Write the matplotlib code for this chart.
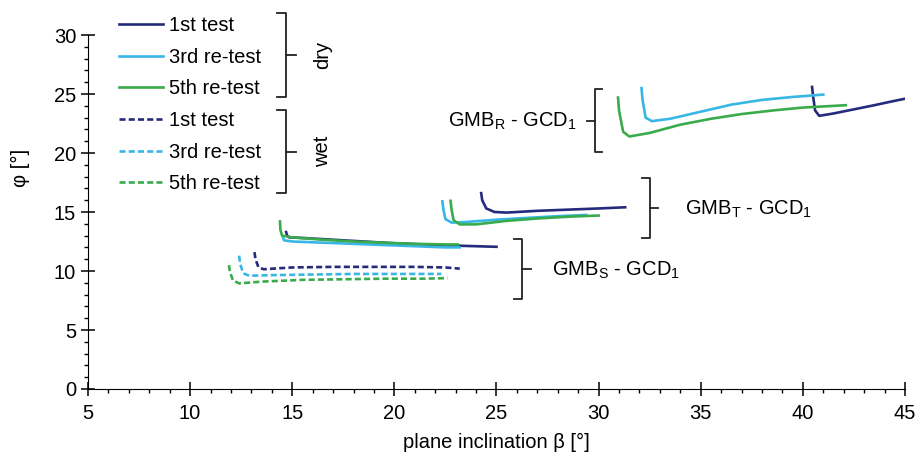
import matplotlib
matplotlib.use("Agg")
import matplotlib.pyplot as plt
from matplotlib.lines import Line2D
from matplotlib.ticker import MultipleLocator

plt.rcParams["font.family"] = ["Liberation Sans", "DejaVu Sans"]
plt.rcParams["mathtext.fontset"] = "custom"
plt.rcParams["mathtext.rm"] = "Liberation Sans"
plt.rcParams["mathtext.it"] = "Liberation Sans"

# --- data (plane inclination beta, friction angle phi) ---
# GMB_R - GCD_1, dry
r1_x = [40.45, 40.5, 40.6, 40.8, 41.5, 42.5, 43.5, 44.3, 45.0]
r1_y = [25.6, 24.8, 23.6, 23.15, 23.35, 23.7, 24.05, 24.35, 24.6]
r3_x = [32.1, 32.15, 32.3, 32.6, 33.5, 35.0, 36.5, 38.0, 39.5, 41.0]
r3_y = [25.5, 24.5, 23.0, 22.7, 22.9, 23.5, 24.1, 24.5, 24.75, 24.95]
r5_x = [30.95, 31.0, 31.2, 31.5, 32.5, 34.0, 35.5, 37.0, 38.5, 40.0, 42.1]
r5_y = [24.7, 23.6, 21.8, 21.4, 21.7, 22.4, 22.9, 23.3, 23.6, 23.85, 24.05]

# GMB_T - GCD_1, dry
t1_x = [24.25, 24.3, 24.5, 24.9, 25.5, 27.0, 28.5, 30.0, 31.3]
t1_y = [16.6, 16.0, 15.3, 15.0, 14.95, 15.1, 15.2, 15.3, 15.4]
t3_x = [22.35, 22.4, 22.5, 22.8, 23.5, 25.0, 26.5, 28.0, 29.4]
t3_y = [15.9, 15.2, 14.4, 14.1, 14.15, 14.35, 14.5, 14.65, 14.75]
t5_x = [22.75, 22.8, 22.9, 23.2, 24.0, 25.5, 27.0, 28.5, 30.0]
t5_y = [15.95, 15.2, 14.3, 13.95, 13.95, 14.25, 14.45, 14.6, 14.7]

# GMB_S - GCD_1, dry
s1_x = [14.7, 14.75, 14.85, 15.5, 17.0, 18.5, 20.0, 21.5, 23.0, 24.0, 25.0]
s1_y = [13.3, 13.0, 12.85, 12.8, 12.65, 12.5, 12.35, 12.25, 12.15, 12.1, 12.05]
s3_x = [14.55, 14.6, 15.0, 16.5, 18.0, 19.5, 21.0, 22.5, 23.2]
s3_y = [12.8, 12.6, 12.5, 12.4, 12.3, 12.2, 12.1, 12.0, 12.0]
s5_x = [14.4, 14.42, 14.5, 15.0, 16.5, 18.0, 19.5, 21.0, 22.5, 23.1]
s5_y = [14.2, 13.5, 13.0, 12.85, 12.65, 12.5, 12.4, 12.3, 12.25, 12.25]

# GMB_S - GCD_1, wet
w1_x = [13.15, 13.2, 13.35, 13.6, 15.0, 17.0, 19.0, 21.0, 22.5, 23.2]
w1_y = [11.6, 11.0, 10.3, 10.15, 10.3, 10.35, 10.35, 10.35, 10.3, 10.2]
w3_x = [12.4, 12.45, 12.6, 12.9, 14.0, 16.0, 18.0, 20.0, 22.3]
w3_y = [11.3, 10.6, 9.8, 9.6, 9.65, 9.7, 9.75, 9.75, 9.75]
w5_x = [11.9, 11.95, 12.1, 12.4, 13.5, 15.5, 17.5, 19.5, 21.5, 22.6]
w5_y = [10.5, 9.9, 9.2, 8.95, 9.1, 9.25, 9.3, 9.35, 9.35, 9.4]

legend_labels = ["1st test", "3rd re-test", "5th re-test"]
group_labels = [r"GMB$_\mathrm{R}$ - GCD$_\mathrm{1}$",
                r"GMB$_\mathrm{T}$ - GCD$_\mathrm{1}$",
                r"GMB$_\mathrm{S}$ - GCD$_\mathrm{1}$"]

NAVY, SKY, GREEN = "#252b7c", "#38b6e6", "#3aab4c"
LW = 1.9
DASH = (2.3, 1.2)
FS = 14.5

fig = plt.figure(figsize=(9.2, 4.57), dpi=100)
ax = fig.add_axes([88 / 920, 1 - 389 / 457, (905 - 88) / 920, (389 - 35) / 457])

for (x, y), c in zip([(r1_x, r1_y), (r3_x, r3_y), (r5_x, r5_y)], [NAVY, SKY, GREEN]):
    ax.plot(x, y, color=c, lw=LW, solid_joinstyle="round")
for (x, y), c in zip([(t1_x, t1_y), (t3_x, t3_y), (t5_x, t5_y)], [NAVY, SKY, GREEN]):
    ax.plot(x, y, color=c, lw=LW, solid_joinstyle="round")
for (x, y), c in zip([(s1_x, s1_y), (s3_x, s3_y), (s5_x, s5_y)], [NAVY, SKY, GREEN]):
    ax.plot(x, y, color=c, lw=LW, solid_joinstyle="round")
for (x, y), c in zip([(w1_x, w1_y), (w3_x, w3_y), (w5_x, w5_y)], [NAVY, SKY, GREEN]):
    ax.plot(x, y, color=c, lw=LW, dashes=DASH)

ax.set_xlim(5, 45)
ax.set_ylim(0, 30)
ax.xaxis.set_major_locator(MultipleLocator(5))
ax.xaxis.set_minor_locator(MultipleLocator(1))
ax.yaxis.set_major_locator(MultipleLocator(5))
ax.yaxis.set_minor_locator(MultipleLocator(1))
for s in ("top", "right"):
    ax.spines[s].set_visible(False)
ax.tick_params(which="major", direction="inout", length=10, width=1.1, labelsize=FS)
ax.tick_params(which="minor", direction="out", length=3, width=1.0)
ax.tick_params(axis="x", which="major", pad=6)
ax.set_xlabel("plane inclination β [°]", fontsize=FS, labelpad=7)
ax.set_ylabel("φ [°]", fontsize=FS)
ax.yaxis.set_label_coords(-0.071, 0.625)

handles = [Line2D([], [], color=c, lw=LW) for c in (NAVY, SKY, GREEN)]
handles += [Line2D([], [], color=c, lw=LW, dashes=DASH) for c in (NAVY, SKY, GREEN)]
ax.legend(handles, legend_labels * 2, loc="upper left", frameon=False,
          bbox_to_anchor=(119 / 920, 1 - 16 / 457), bbox_transform=fig.transFigure,
          fontsize=FS, handlelength=2.2, handletextpad=0.3, labelspacing=0.63,
          borderpad=0, borderaxespad=0)

# brackets, in figure pixel coordinates (origin top-left)
def px(x, y):
    return x / 920, 1 - y / 457


def bracket(x, y0, y1, serif, tick):
    ym = (y0 + y1) / 2
    pts = [px(x + serif, y0), px(x, y0), px(x, y1), px(x + serif, y1)]
    fig.add_artist(Line2D([p[0] for p in pts], [p[1] for p in pts],
                          color="#222222", lw=1.3, transform=fig.transFigure))
    a, b = px(x, ym), px(x + tick, ym)
    fig.add_artist(Line2D([a[0], b[0]], [a[1], b[1]], color="#222222", lw=1.3,
                          transform=fig.transFigure))


bracket(286, 13, 97, -9, 10)
bracket(286, 110, 193, -9, 10)
fig.text(*px(323, 55), "dry", rotation=90, ha="center", va="center", fontsize=FS)
fig.text(*px(323, 151), "wet", rotation=90, ha="center", va="center", fontsize=FS)

bracket(595, 89, 152, 7, -8)
fig.text(*px(577, 121), group_labels[0], ha="right", va="center", fontsize=FS)
bracket(650, 178, 238, -8, 8)
fig.text(*px(685, 209), group_labels[1], ha="left", va="center", fontsize=FS)
bracket(522, 239, 299, -8, 9)
fig.text(*px(552, 270), group_labels[2], ha="left", va="center", fontsize=FS)

fig.savefig("out.png", dpi=100)
